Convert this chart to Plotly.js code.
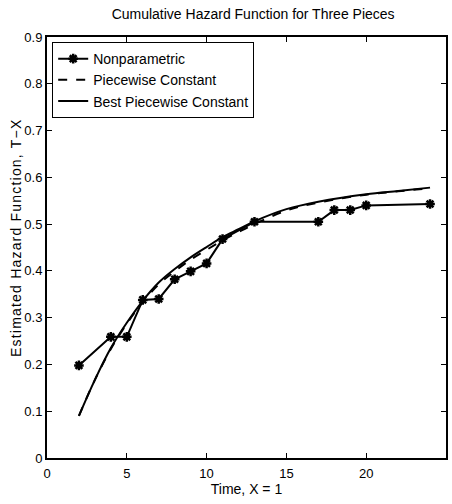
<!DOCTYPE html>
<html>
<head>
<meta charset="utf-8">
<script src="https://cdn.plot.ly/plotly-3.0.1.min.js"></script>
<style>
html,body{margin:0;padding:0;background:#fff;}
#chart .annotation-text{letter-spacing:1.2px;}
</style>
</head>
<body>
<div id="chart" style="width:452px;height:504px;"></div>
<script>
var npTime = [2, 4, 5, 6, 7, 8, 9, 10, 11, 13, 17, 18, 19, 20, 24];
var npHazard = [0.198, 0.259, 0.259, 0.338, 0.340, 0.382, 0.399, 0.416, 0.468, 0.505, 0.505, 0.530, 0.530, 0.540, 0.543];

var curveTime = [2, 3, 4, 5, 6, 7, 8, 9, 10, 11, 12, 13, 15, 17, 20, 22, 24];
var pcHazard = [0.090, 0.167, 0.233, 0.287, 0.333, 0.371, 0.399, 0.424, 0.445, 0.465, 0.483, 0.500, 0.529, 0.546, 0.563, 0.570, 0.577];
var bestHazard = [0.090, 0.167, 0.235, 0.289, 0.336, 0.375, 0.404, 0.429, 0.451, 0.472, 0.489, 0.506, 0.532, 0.548, 0.564, 0.571, 0.578];

var traces = [
  {x: npTime, y: npHazard, mode: 'lines+markers', name: 'Nonparametric',
   line: {color: '#000', width: 2},
   marker: {symbol: 'asterisk-open', size: 8, color: '#000', line: {color: '#000', width: 2.5}}},
  {x: curveTime, y: pcHazard, mode: 'lines', name: 'Piecewise Constant',
   line: {color: '#000', width: 2, dash: 'dash', shape: 'spline'}},
  {x: curveTime, y: bestHazard, mode: 'lines', name: 'Best Piecewise Constant',
   line: {color: '#000', width: 2, shape: 'spline'}}
];

var fam = 'Liberation Sans, Arial, sans-serif';
var tickFont = {family: fam, size: 13, color: '#000'};
var titleFont = {family: fam, size: 14, color: '#000'};
var layout = {
  width: 452, height: 504,
  margin: {l: 47, r: 6, t: 37, b: 46},
  paper_bgcolor: '#fff', plot_bgcolor: '#fff',
  font: tickFont,
  showlegend: true,
  title: {text: 'Cumulative Hazard Function for Three Pieces', font: titleFont, x: 0.56, xanchor: 'center', y: 0.972, yanchor: 'middle'},
  xaxis: {
    range: [0, 25], tickvals: [0, 5, 10, 15, 20, 25], ticktext: ['0','5','10','15','20','25'],
    ticks: 'inside', ticklen: 5, tickwidth: 1, tickcolor: '#000',
    showline: true, linecolor: '#000', linewidth: 2, mirror: 'ticks',
    showgrid: false, zeroline: false, ticklabelstandoff: 2,
    tickfont: tickFont,
    title: {text: 'Time, X = 1', font: titleFont, standoff: 4}
  },
  yaxis: {
    range: [0, 0.9], tickvals: [0, 0.1, 0.2, 0.3, 0.4, 0.5, 0.6, 0.7, 0.8, 0.9],
    ticktext: ['0','0.1','0.2','0.3','0.4','0.5','0.6','0.7','0.8','0.9'],
    ticks: 'inside', ticklen: 5, tickwidth: 1, tickcolor: '#000',
    showline: true, linecolor: '#000', linewidth: 2, mirror: 'ticks',
    showgrid: false, zeroline: false,
    tickfont: tickFont
  },
  annotations: [{
    text: 'Estimated Hazard Function, T\u2212X', textangle: -90,
    xref: 'paper', yref: 'paper', x: -0.0764, y: 0.5238,
    xanchor: 'center', yanchor: 'middle', showarrow: false, font: titleFont
  }],
  legend: {
    x: 0.013, y: 0.988, xanchor: 'left', yanchor: 'top',
    bgcolor: '#fff', bordercolor: '#000', borderwidth: 1,
    font: {family: fam, size: 14, color: '#000'}, tracegroupgap: 0, itemwidth: 30
  }
};

Plotly.newPlot('chart', traces, layout, {displayModeBar: false, staticPlot: true});
</script>
</body>
</html>
